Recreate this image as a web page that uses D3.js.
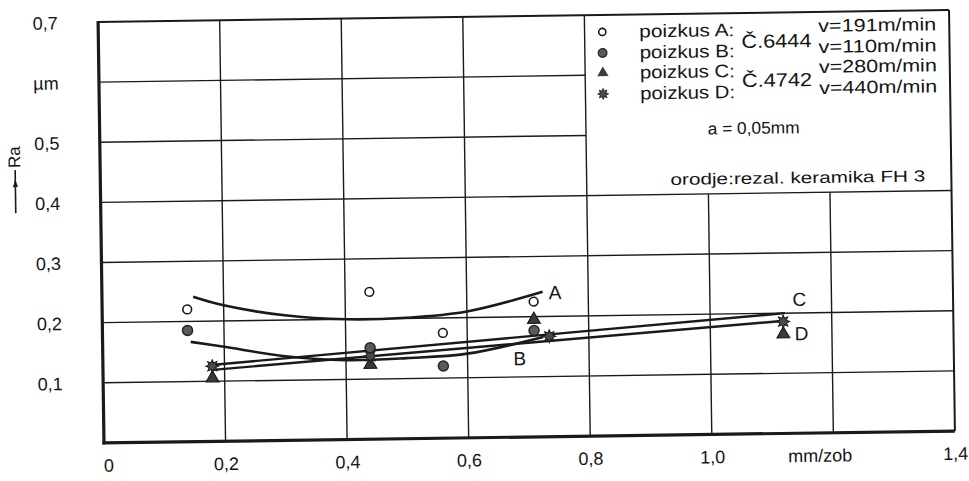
<!DOCTYPE html>
<html><head><meta charset="utf-8">
<script src="https://cdn.jsdelivr.net/npm/d3@7"></script>
<style>
body{margin:0;background:#fff}
text{font-family:"Liberation Sans",Arial,sans-serif;fill:#151515}
</style>
</head><body>
<svg id="chart" width="969" height="481"></svg>
<script>
// ---- data ----
const yTicks = [0.1, 0.2, 0.3, 0.4, 0.5, 0.6, 0.7];
const yTickLabels = ["0,1", "0,2", "0,3", "0,4", "0,5", "µm", "0,7"];
const xTicks = [0, 0.2, 0.4, 0.6, 0.8, 1.0, 1.2, 1.4];
const xTickLabels = ["0", "0,2", "0,4", "0,6", "0,8", "1,0", "mm/zob", "1,4"];

const pointsA_x = [0.14, 0.44, 0.56, 0.71];
const pointsA_y = [0.22, 0.245, 0.175, 0.225];
const pointsB_x = [0.14, 0.44, 0.56, 0.71];
const pointsB_y = [0.185, 0.152, 0.12, 0.177];
const pointsC_x = [0.18, 0.44, 0.71, 1.12];
const pointsC_y = [0.105, 0.124, 0.195, 0.165];
const pointsD_x = [0.18, 0.44, 0.735, 1.12];
const pointsD_y = [0.125, 0.138, 0.167, 0.186];

const curveA_x = [0.15, 0.2, 0.3, 0.4, 0.5, 0.6, 0.725];
const curveA_y = [0.241, 0.226, 0.208, 0.200, 0.201, 0.210, 0.241];
const curveB_x = [0.145, 0.2, 0.3, 0.4, 0.5, 0.6, 0.725];
const curveB_y = [0.166, 0.157, 0.140, 0.132, 0.134, 0.140, 0.166];
const lineC_x = [0.178, 1.123];
const lineC_y = [0.127, 0.200];
const lineD_x = [0.181, 1.118];
const lineD_y = [0.119, 0.187];

const legendNames = ["poizkus A:", "poizkus B:", "poizkus C:", "poizkus D:"];
const legendSpeeds = ["v=191m/min", "v=110m/min", "v=280m/min", "v=440m/min"];
const legendSteels = ["Č.6444", "Č.4742"];
const noteDepth = "a = 0,05mm";
const noteTool = "orodje:rezal. keramika FH 3";

// ---- layout ----
const L = 101, R = 952, T = 16, B = 437;
const x = d3.scaleLinear().domain([0, 1.4]).range([L, R]);
const y = d3.scaleLinear().domain([0, 0.7]).range([B, T]);

const svg = d3.select("#chart");
const g = svg.append("g").attr("transform", "rotate(-0.8,526.5,226.5)");
const ink = "#1a1a1a";
const FONT = "'Liberation Sans',Arial,sans-serif";

// grid
const gridV = [0.2, 0.4, 0.6, 0.8, 1.0, 1.2];
g.selectAll(".gv").data(gridV).enter().append("line")
  .attr("x1", d => x(d)).attr("x2", d => x(d))
  .attr("y1", d => d > 0.8 ? y(0.4) : y(0.7)).attr("y2", y(0))
  .attr("stroke", ink).attr("stroke-width", 1.4);
const gridH = [0.1, 0.2, 0.3, 0.4, 0.5, 0.6];
g.selectAll(".gh").data(gridH).enter().append("line")
  .attr("x1", x(0)).attr("x2", d => d > 0.4 ? x(0.8) : x(1.4))
  .attr("y1", d => y(d)).attr("y2", d => y(d))
  .attr("stroke", ink).attr("stroke-width", 1.4);

// frame
g.append("line").attr("x1", x(0)).attr("x2", x(1.4)).attr("y1", y(0.7)).attr("y2", y(0.7)).attr("stroke", ink).attr("stroke-width", 2);
g.append("line").attr("x1", x(1.4)).attr("x2", x(1.4)).attr("y1", y(0.7)).attr("y2", y(0)).attr("stroke", ink).attr("stroke-width", 2);
g.append("line").attr("x1", x(0)).attr("x2", x(0)).attr("y1", y(0.7) - 1).attr("y2", y(0) + 1.5).attr("stroke", ink).attr("stroke-width", 3.2);
g.append("line").attr("x1", x(0) - 1.5).attr("x2", x(1.4)).attr("y1", y(0)).attr("y2", y(0)).attr("stroke", ink).attr("stroke-width", 3.2);

// axis labels
const yAxis = d3.axisLeft(y).tickValues(yTicks).tickSize(0).tickPadding(0)
  .tickFormat((d, i) => yTickLabels[i]);
const ya = g.append("g").attr("transform", `translate(${L - 53},0)`).call(yAxis);
ya.select(".domain").remove();
ya.attr("font-size", null).attr("font-family", null);
ya.selectAll("text").attr("text-anchor", "middle").attr("dy", "0.35em")
  .style("font-size", "18px").style("font-family", FONT).attr("fill", ink);

const xAxis = d3.axisBottom(x).tickValues(xTicks).tickSize(0).tickPadding(0)
  .tickFormat((d, i) => xTickLabels[i]);
const xa = g.append("g").attr("transform", `translate(0,${B + 16})`).call(xAxis);
xa.select(".domain").remove();
xa.attr("font-size", null).attr("font-family", null);
xa.selectAll("text").attr("dy", "0.71em")
  .style("font-size", "18px").style("font-family", FONT).attr("fill", ink)
  .attr("dx", (d, i) => xTickLabels[i] === "mm/zob" ? -14 : (d === 0 ? 4 : 0));

// Ra label with arrow
g.append("text").attr("transform", "translate(21,150) rotate(-90)")
  .attr("text-anchor", "middle").style("font-size", "17px").text("Ra");
g.append("line").attr("x1", 16).attr("x2", 16).attr("y1", 163).attr("y2", 206)
  .attr("stroke", ink).attr("stroke-width", 1.6);
g.append("path").attr("d", "M16,172 L13.5,180 L18.5,180 Z").attr("fill", ink);

// curves
const curveLine = d3.line().x(d => x(d[0])).y(d => y(d[1])).curve(d3.curveCatmullRom.alpha(0.5));
const straight = d3.line().x(d => x(d[0])).y(d => y(d[1]));
g.append("path").attr("d", curveLine(curveA_x.map((v, i) => [v, curveA_y[i]])))
  .attr("fill", "none").attr("stroke", ink).attr("stroke-width", 2.6);
g.append("path").attr("d", curveLine(curveB_x.map((v, i) => [v, curveB_y[i]])))
  .attr("fill", "none").attr("stroke", ink).attr("stroke-width", 2.6);
g.append("path").attr("d", straight(lineC_x.map((v, i) => [v, lineC_y[i]])))
  .attr("fill", "none").attr("stroke", ink).attr("stroke-width", 2.4);
g.append("path").attr("d", straight(lineD_x.map((v, i) => [v, lineD_y[i]])))
  .attr("fill", "none").attr("stroke", ink).attr("stroke-width", 2.4);

// markers
function cog(r1, r2, n) {
  const pts = [];
  for (let i = 0; i < 2 * n; i++) {
    const a = Math.PI * i / n;
    const r = i % 2 ? r2 : r1;
    pts.push([r * Math.sin(a), -r * Math.cos(a)]);
  }
  return "M" + pts.map(p => p.join(",")).join("L") + "Z";
}
function drawPts(xs, ys, kind) {
  const sel = g.append("g").selectAll("path").data(xs.map((v, i) => [v, ys[i]])).enter().append("path")
    .attr("transform", d => `translate(${x(d[0])},${y(d[1])})`);
  if (kind === "A") sel.attr("d", d3.symbol(d3.symbolCircle, 60)()).attr("fill", "#fff").attr("stroke", ink).attr("stroke-width", 1.6);
  if (kind === "B") sel.attr("d", d3.symbol(d3.symbolCircle, 80)()).attr("fill", "#5a5a5a").attr("stroke", "#222").attr("stroke-width", 1.4);
  if (kind === "C") sel.attr("d", d3.symbol(d3.symbolTriangle, 70)()).attr("fill", "#3a3a3a").attr("stroke", "#1a1a1a").attr("stroke-width", 1.2);
  if (kind === "D") sel.attr("d", cog(6.5, 3.5, 8)).attr("fill", "#4a4a4a").attr("stroke", "#1a1a1a").attr("stroke-width", 1);
}
drawPts(pointsC_x, pointsC_y, "C");
drawPts(pointsD_x, pointsD_y, "D");
drawPts(pointsB_x, pointsB_y, "B");
drawPts(pointsA_x, pointsA_y, "A");

// curve labels
const lab = [["A", 0.735, 0.24], ["B", 0.686, 0.131], ["C", 1.147, 0.223], ["D", 1.15, 0.166]];
g.selectAll(".cl").data(lab).enter().append("text")
  .attr("x", d => x(d[1])).attr("y", d => y(d[2])).attr("dy", "0.36em")
  .attr("text-anchor", d => d[0] === "A" ? "start" : "middle")
  .style("font-size", "19px").text(d => d[0]);

// legend
const rowsY = [39, 60, 80, 101];
const legSyms = ["A", "B", "C", "D"];
legSyms.forEach((k, i) => {
  const p = g.append("path").attr("transform", `translate(605,${rowsY[i] - 6})`);
  if (k === "A") p.attr("d", d3.symbol(d3.symbolCircle, 40)()).attr("fill", "#fff").attr("stroke", ink).attr("stroke-width", 1.6);
  if (k === "B") p.attr("d", d3.symbol(d3.symbolCircle, 60)()).attr("fill", "#5a5a5a").attr("stroke", "#222").attr("stroke-width", 1.2);
  if (k === "C") p.attr("d", d3.symbol(d3.symbolTriangle, 55)()).attr("fill", "#3a3a3a");
  if (k === "D") p.attr("d", cog(5.5, 3, 8)).attr("fill", "#4a4a4a").attr("stroke", "#1a1a1a").attr("stroke-width", 0.8);
  g.append("text").attr("x", 642).attr("y", rowsY[i]).attr("textLength", 95).attr("lengthAdjust", "spacingAndGlyphs")
    .style("font-size", "18px").text(legendNames[i]);
  g.append("text").attr("x", 821).attr("y", rowsY[i] - 3).attr("textLength", 118).attr("lengthAdjust", "spacingAndGlyphs")
    .style("font-size", "18px").text(legendSpeeds[i]);
});
g.append("text").attr("x", 744).attr("y", 51).attr("textLength", 70).attr("lengthAdjust", "spacingAndGlyphs")
  .style("font-size", "19px").text(legendSteels[0]);
g.append("text").attr("x", 744).attr("y", 90).attr("textLength", 70).attr("lengthAdjust", "spacingAndGlyphs")
  .style("font-size", "19px").text(legendSteels[1]);
g.append("text").attr("x", 709).attr("y", 137).attr("textLength", 92).attr("lengthAdjust", "spacingAndGlyphs")
  .style("font-size", "17px").text(noteDepth);
g.append("text").attr("x", 671).attr("y", 187).attr("textLength", 255).attr("lengthAdjust", "spacingAndGlyphs")
  .style("font-size", "16px").text(noteTool);
</script>
</body></html>
